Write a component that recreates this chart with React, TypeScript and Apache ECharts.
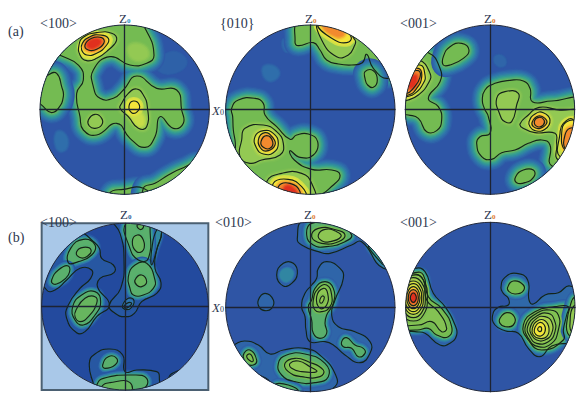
import React, { useEffect, useRef } from "react";
import * as echarts from "echarts";

// Pole-figure contours: [density level, has contour line, x,y, x,y, ...]
// coordinates are picture units measured from the top-left of each figure's crop.
type Contour = [number, number, number[]];

const a100: Contour[] = [
  [-2.2, 0, [170,400,190,400,202,430,187,452,170,440]],
  [-2.6, 0, [470,195,520,155,560,190,505,222]],
  [0, 1, [180,166,236,196,250,240,230,280,240,350,250,390,290,405,350,370,390,415,435,442,465,410,480,350,520,385,550,370,545,330,530,270,470,265,410,228,370,270,340,295,300,295,280,260,280,210,330,170,390,195,440,190,462,165,435,85,400,50,250,50,190,100,140,150]],
  [0, 1, [146,224,170,220,185,260,190,290,175,325,155,338,135,325,110,290,125,245]],
  [0, 1, [330,578,370,568,430,565,455,600,340,610]],
  [0, 1, [430,565,465,550,505,525,550,503,600,490,620,570,520,640,440,620]],
  [1, 1, [237,135,250,112,290,98,335,100,350,120,325,150,290,175,260,182,240,165]],
  [1, 1, [365,310,385,280,410,267,430,285,442,320,440,380,415,385,385,350,360,325]],
  [1, 1, [265,360,285,343,305,355,305,375,285,385,268,378]],
  [1, 0, [390,140,430,140,440,170,400,175]],
  [3, 1, [247,130,270,110,300,105,325,115,320,135,290,160,260,165,245,150]],
  [2, 0, [395,340,420,340,430,370,415,375]],
  [3, 1, [387,318,400,303,418,315,412,335,395,338]],
  [4, 1, [255,135,275,115,305,113,312,128,290,148,265,150]],
  [5, 0, [265,132,282,120,300,125,285,140,270,142]],
];

const a010: Contour[] = [
  [-2.2, 0, [175,205,205,200,220,225,190,240]],
  [-2.4, 0, [235,120,255,125,260,150,240,152]],
  [0, 1, [80,325,100,300,150,295,175,310,180,345,215,380,255,418,275,405,310,402,338,425,325,465,285,472,255,452,268,480,320,508,380,510,405,525,385,555,330,590,200,610,100,490,90,420,85,390,83,350]],
  [0, 1, [285,65,270,125,280,137,325,128,345,150,365,180,400,192,440,195,472,188,485,163,505,205,548,235,580,200,500,50]],
  [0, 1, [480,215,505,212,517,240,505,262,488,255,480,235]],
  [1, 1, [120,385,175,375,215,395,235,430,225,465,170,480,135,490,105,470,110,420]],
  [1, 1, [185,545,230,520,290,520,320,550,325,600,190,600]],
  [1, 1, [350,120,395,170,430,165,447,140,450,120,400,70,340,60]],
  [2, 1, [150,410,175,392,205,400,220,430,205,458,175,462,155,445]],
  [3, 1, [205,550,250,538,290,560,300,590,220,590]],
  [3, 1, [338,72,380,115,425,128,438,110,395,65]],
  [3, 1, [160,420,180,398,205,415,210,435,190,452,170,448]],
  [4, 1, [168,425,185,407,203,425,195,445,175,442]],
  [4, 1, [220,560,255,550,285,575,270,595,235,585]],
  [4, 0, [355,78,395,108,415,100,380,72]],
  [5, 0, [240,565,258,562,272,585,248,590]],
];

const a001: Contour[] = [
  [-2.5, 0, [300,170,325,170,330,195,305,195]],
  [-2.3, 0, [340,530,360,520,360,560,340,560]],
  [0, 1, [100,158,135,205,135,245,100,295,130,320,140,360,125,392,95,395,70,355,40,345,10,340,10,200,60,170]],
  [0, 1, [145,170,165,140,200,130,222,150,205,175,165,195,145,195]],
  [0, 1, [262,300,270,270,300,250,345,241,385,243,405,265,412,305,470,303,560,305,560,500,470,497,465,435,440,420,400,430,360,450,320,458,290,478,260,470,245,430,255,410,285,400,280,350,268,325]],
  [0, 1, [362,530,385,510,415,510,417,530,390,548,365,548]],
  [1, 1, [305,295,330,275,370,280,365,315,350,365,330,365,315,345]],
  [1, 1, [375,372,400,345,432,322,490,330,560,340,560,480,490,480,485,430,480,400,420,398,385,385]],
  [1, 1, [70,180,105,220,100,250,70,285,40,300,15,300,15,200]],
  [2, 1, [75,195,90,225,85,250,60,280,35,290,15,290,15,215]],
  [2, 1, [402,365,420,342,445,338,465,360,450,388,420,392,405,380]],
  [2, 1, [495,400,505,370,535,360,560,460,495,470]],
  [3, 1, [70,205,80,230,65,265,40,285,15,280,30,220]],
  [3, 1, [412,365,430,348,450,355,455,370,435,385,415,380]],
  [3, 1, [500,400,515,365,550,370,540,440,510,450]],
  [4, 1, [70,212,75,232,55,265,35,280,15,270,40,225]],
  [4, 1, [418,365,432,352,447,360,445,375,428,380]],
  [4, 1, [510,405,525,385,550,390,530,440,510,445]],
  [5, 0, [60,228,62,245,48,262,42,245]],
];

const b100: Contour[] = [
  [-2.7, 1, [250,100,275,120,298,145,305,175,340,195,342,218,300,235,293,262,328,315,290,350,255,395,230,398,200,355,205,315,240,265,272,235,275,210,240,205,200,240,165,270,140,270,110,200,200,80]],
  [-2.7, 1, [335,60,360,100,372,180,362,265,328,315,345,340,375,350,403,340,425,305,470,280,483,248,465,205,470,150,485,95,470,50,340,50]],
  [-2.7, 1, [268,490,285,462,330,447,368,465,375,515,410,510,470,515,478,530,468,570,300,600,280,550]],
  [-2.7, 1, [505,535,540,510,552,515,520,570]],
  [-1.5, 1, [470,90,455,150,455,195,470,150,485,95]],
  [-0.4, 1, [205,188,212,145,250,118,285,135,275,165,235,185]],
  [-0.4, 1, [155,240,175,210,205,198,205,225,175,250,160,252]],
  [-0.4, 1, [378,70,388,140,415,180,445,175,450,80,445,60]],
  [-0.4, 1, [390,265,385,230,405,195,440,190,465,240,460,265,430,285,400,285]],
  [-0.4, 1, [218,320,245,285,285,275,302,305,285,345,250,375,225,360]],
  [-0.4, 1, [308,495,325,470,350,475,345,495,315,505]],
  [-0.4, 1, [290,555,310,535,400,525,440,535,430,565,290,575]],
  [-2, 1, [367,318,385,295,402,302,392,325,375,328]],
  [-2.5, 1, [372,318,385,308,395,310,385,322,375,324]],
  [-0.2, 1, [230,155,250,142,273,150,260,170,238,172]],
  [-0.2, 1, [397,125,412,105,430,120,430,150,410,155]],
  [-0.2, 1, [412,75,430,75,425,88,415,85]],
  [-0.2, 1, [405,240,425,225,440,245,425,260,410,255]],
  [-0.2, 1, [228,330,255,295,285,290,290,310,265,350,240,365,225,350]],
  [-0.2, 1, [305,560,330,548,390,548,385,590,300,590]],
];

const b010: Contour[] = [
  [-2.5, 1, [298,60,277,115,290,135,340,155,375,160,440,135,470,125,535,205,580,180,480,40]],
  [-1, 1, [490,140,510,150,540,195,530,190]],
  [-2.5, 1, [340,205,365,185,405,205,415,235,390,300,380,345,400,380,450,395,495,425,495,460,465,488,420,465,385,435,360,425,315,425,303,390,300,350,290,320,300,280,320,255,335,235]],
  [-2.5, 1, [215,225,235,190,265,190,277,220,260,250,235,258]],
  [-2.5, 1, [160,300,180,280,205,300,200,325,180,332,163,322]],
  [-2.5, 1, [92,432,120,423,160,435,195,462,235,450,300,445,350,470,392,525,390,560,330,585,250,600,200,570,190,540,150,520,120,500,70,450]],
  [-1.6, 0, [225,225,245,205,265,220,245,245]],
  [-0.4, 1, [305,105,320,70,400,75,440,105,420,125,365,140,325,135]],
  [-0.4, 1, [320,300,330,265,360,245,385,265,385,310,365,345,360,370,365,400,345,415,325,400,320,360,310,320]],
  [-0.4, 1, [410,425,425,413,450,435,475,445,480,460,460,470,440,445,415,440]],
  [-0.4, 1, [115,465,135,450,155,480,145,495,125,490]],
  [-0.4, 1, [220,490,245,465,300,462,360,490,370,530,330,548,270,545,230,525]],
  [-0.4, 1, [210,555,250,555,280,575,240,590]],
  [0.2, 1, [320,110,340,85,395,90,420,105,400,125,350,130]],
  [0.2, 1, [325,300,340,265,365,255,380,285,375,320,350,335,330,330]],
  [0.4, 1, [125,470,135,462,145,480,140,485]],
  [0.2, 1, [240,490,270,475,310,485,355,510,345,530,290,530,250,515]],
  [0.8, 1, [340,105,360,88,395,95,408,110,375,125,350,122]],
  [0.8, 1, [335,290,355,265,368,280,365,315,345,325]],
  [0.8, 1, [255,490,280,483,315,500,335,515,290,515,260,505]],
  [1, 1, [345,298,352,288,358,292,352,308,345,308]],
];

const b001: Contour[] = [
  [-2.4, 1, [20,230,60,205,90,215,115,280,150,320,180,375,185,405,165,430,135,435,90,400,60,395,20,385]],
  [-2.4, 1, [318,262,330,232,365,220,398,240,402,300,415,312,450,285,490,278,525,258,570,300,570,430,520,430,470,438,435,470,400,445,370,400,330,392,300,375,293,345,310,322,340,315,340,295,325,280]],
  [0, 1, [15,240,60,218,85,225,100,290,140,325,170,380,160,410,125,405,100,385,65,390,15,380]],
  [0, 1, [338,262,355,243,385,255,383,275,360,282,342,275]],
  [0, 1, [315,355,335,338,358,350,355,375,330,380,315,370]],
  [0, 1, [385,375,420,335,480,320,520,320,515,345,505,390,505,420,440,450,400,420]],
  [0, 1, [515,370,525,320,540,290,560,300,560,420,535,415,518,400]],
  [0.5, 1, [15,250,60,225,85,240,95,300,130,335,155,385,140,395,110,365,70,375,15,365]],
  [0.5, 1, [392,375,425,340,465,330,490,345,490,390,470,430,430,440,400,415]],
  [1, 1, [525,370,535,320,560,320,555,400,530,395]],
  [1, 1, [13,293,25,240,55,222,85,240,97,293,85,345,55,363,25,345]],
  [1.4, 1, [19,293,30,248,55,233,80,248,91,293,80,338,55,353,30,338]],
  [2, 1, [25,293,34,256,55,243,76,256,85,293,76,330,55,343,34,330]],
  [1, 1, [398,380,425,348,460,340,478,360,480,395,460,425,425,430,405,410]],
  [1.5, 1, [405,385,425,355,450,350,470,365,470,400,450,420,425,420,410,405]],
  [2, 1, [412,385,428,362,450,362,462,385,455,410,432,415,415,405]],
  [3, 1, [30,293,38,262,55,251,72,262,80,293,72,324,55,335,38,324]],
  [3, 1, [35,293,41,270,55,260,69,270,75,293,69,316,55,326,41,316]],
  [3, 1, [418,388,432,368,448,375,450,395,438,408,422,403]],
  [4, 1, [40,293,44,276,55,269,66,276,70,293,66,310,55,317,44,310]],
  [5, 1, [46,293,50,282,55,279,60,282,64,293,60,304,55,307,50,304]],
  [2, 1, [428,388,435,380,440,388,435,395]],
];

const gridLetters = ["(a)", "(b)"];
const poleTitles = ["<100>", "{010}", "<001>", "<100>", "<010>", "<001>"];
const zLabel = "Z";
const xLabel = "X";
const subscript = "0";
const contourSets = [a100, a010, a001, b100, b010, b001];

// Figure geometry: crop offset, centre within the crop, radius (all in picture units, 3 per pixel)
const frames = [
  { ox: 0, oy: 0, cx: 374, cy: 329, r: 254, bg: "#2e55a6", halo: 1, box: false },
  { ox: 205, oy: 0, cx: 316, cy: 329, r: 254, bg: "#2e55a6", halo: 1, box: false },
  { ox: 395, oy: 0, cx: 285, cy: 329, r: 254, bg: "#2e55a6", halo: 1, box: false },
  { ox: 0, oy: 200, cx: 375, cy: 320, r: 250, bg: "#234a9e", halo: 0.55, box: true },
  { ox: 205, oy: 200, cx: 316, cy: 321, r: 254, bg: "#2f55a5", halo: 0.55, box: false },
  { ox: 395, oy: 200, cx: 286, cy: 321, r: 254, bg: "#2f55a5", halo: 0.55, box: false },
];

const ramp = ["#2e55a6", "#2f74ac", "#33a092", "#74bb52", "#93c953", "#c8dd48", "#f4e63a", "#f28a2e", "#e0301e"];

const hex = (c: string) => [1, 3, 5].map((i) => parseInt(c.slice(i, i + 2), 16));
const mix = (a: string, b: string, t: number) => {
  const A = hex(a);
  const B = hex(b);
  return `rgb(${A.map((v, i) => Math.round(v + (B[i] - v) * t)).join(",")})`;
};
const colorAt = (v: number, bg: string) => {
  const u = Math.max(0, Math.min(ramp.length - 1, v + 3));
  const i = Math.min(ramp.length - 2, Math.floor(u));
  return mix(i === 0 ? bg : ramp[i], ramp[i + 1], u - i);
};

type Item = { kind: "bg" | "fill" | "line" | "rim"; c?: Contour };

function buildOption() {
  const grid: any[] = [];
  const xAxis: any[] = [];
  const yAxis: any[] = [];
  const series: any[] = [];
  const axisLine = { show: true, onZero: true, lineStyle: { color: "#1d2333", width: 1.3 } };
  frames.forEach((f, idx) => {
    const pxR = f.r / 3;
    const pxCx = f.ox + f.cx / 3;
    const pxCy = f.oy + f.cy / 3;
    grid.push({
      left: pxCx - pxR,
      top: pxCy - pxR,
      width: pxR * 2,
      height: pxR * 2,
      show: f.box,
      backgroundColor: f.box ? "#a9c8e8" : "transparent",
      borderColor: f.box ? "#4b6072" : "transparent",
      borderWidth: f.box ? 2 : 0,
    });
    const base = { gridIndex: idx, type: "value", min: -f.r, max: f.r, z: 20, axisLine, axisTick: { show: false }, axisLabel: { show: false }, splitLine: { show: false } };
    xAxis.push({ ...base });
    yAxis.push({ ...base });
    const contours = contourSets[idx];
    const sorted = contours.slice().sort((p, q) => p[0] - q[0]);
    const items: Item[] = [
      { kind: "bg" },
      ...sorted.map((c) => ({ kind: "fill" as const, c })),
      ...contours.filter((c) => c[1]).map((c) => ({ kind: "line" as const, c })),
      { kind: "rim" },
    ];
    series.push({
      type: "custom",
      xAxisIndex: idx,
      yAxisIndex: idx,
      silent: true,
      clip: false,
      z: 5,
      data: items.map(() => [0, 0]),
      renderItem: (params: any, api: any) => {
        const it = items[params.dataIndex];
        const o = api.coord([0, 0]);
        const r = api.coord([f.r, 0])[0] - o[0];
        const clipPath = { type: "circle", shape: { cx: o[0], cy: o[1], r } };
        if (it.kind === "bg") return { type: "circle", shape: { cx: o[0], cy: o[1], r }, style: { fill: f.bg } };
        if (it.kind === "rim") return { type: "circle", shape: { cx: o[0], cy: o[1], r }, style: { fill: "none", stroke: "#232a3c", lineWidth: 1 } };
        const [level, , flat] = it.c as Contour;
        const points: number[][] = [];
        for (let i = 0; i < flat.length; i += 2) points.push(api.coord([flat[i] - f.cx, f.cy - flat[i + 1]]));
        const shape = { points, smooth: 0.5 };
        if (it.kind === "line") {
          return { type: "group", clipPath, children: [{ type: "polygon", shape, style: { fill: "none", stroke: "#14241a", lineWidth: 1.15 } }] };
        }
        const nested = level !== 0 && level > -0.35 && level < 1;
        const low = level >= 1 ? level - 1 : nested ? level - 0.4 : -3;
        const wide = (level >= 1 || nested ? 8 : (level + 3) * 7.5) * f.halo;
        const steps = level >= 1 || nested ? 3 : Math.max(4, Math.round(wide / 2.5));
        const children: any[] = [];
        for (let s = 0; s < steps; s++) {
          const t = (s + 0.5) / steps;
          children.push({
            type: "polygon",
            shape,
            style: { fill: "none", stroke: colorAt(low + (level - low) * t, f.bg), lineWidth: wide * (1 - s / steps), lineJoin: "round" },
          });
        }
        children.push({ type: "polygon", shape, style: { fill: colorAt(level, f.bg) } });
        return { type: "group", clipPath, children };
      },
    });
  });

  const textStyle = { fontFamily: "Liberation Serif", fill: "#2d3850" };
  const graphic: any[] = [];
  gridLetters.forEach((t, i) => {
    graphic.push({ type: "text", x: 8, y: i === 0 ? 31 : 237, z: 1, style: { ...textStyle, text: t, fontSize: 14, verticalAlign: "middle" } });
  });
  const titleX = [40, 220, 400, 40, 215, 400];
  const titleY = [23, 23, 23, 222, 222, 222];
  poleTitles.forEach((t, i) => {
    graphic.push({ type: "text", x: titleX[i], y: titleY[i], z: 1, style: { ...textStyle, text: t, fontSize: 14, verticalAlign: "middle" } });
  });
  const zX = [119, 305, 484, 120, 304, 484];
  const zY = [18, 18, 18, 214, 214, 214];
  const subColor = ["#2a8fc0", "#e07b2a", "#e07b2a", "#2a5fa0", "#e07b2a", "#e07b2a"];
  zX.forEach((x, i) => {
    graphic.push({
      type: "text",
      x,
      y: zY[i],
      z: 1,
      style: {
        text: `{z|${zLabel}}{s|${subscript}}`,
        verticalAlign: "middle",
        rich: {
          z: { fontFamily: "Liberation Serif", fontSize: 13, fill: "#2d3850" },
          s: { fontFamily: "Liberation Serif", fontSize: 7, fill: subColor[i], fontWeight: "bold", padding: [5, 0, 0, 0] },
        },
      },
    });
  });
  [110, 307].forEach((y) => {
    graphic.push({
      type: "text",
      x: 212,
      y,
      z: 30,
      style: {
        text: `{x|${xLabel}}{s|${subscript}}`,
        verticalAlign: "middle",
        rich: {
          x: { fontFamily: "Liberation Serif", fontStyle: "italic", fontSize: 13, fill: "#2d3850" },
          s: { fontFamily: "Liberation Serif", fontSize: 8, fill: "#2d3850", padding: [5, 0, 0, 0] },
        },
      },
    });
  });

  return { animation: false, backgroundColor: "#ffffff", grid, xAxis, yAxis, series, graphic };
}

export default function App() {
  const ref = useRef<HTMLDivElement>(null);
  useEffect(() => {
    const chart = echarts.init(ref.current as HTMLDivElement, undefined, { renderer: "svg" });
    chart.setOption(buildOption() as any);
    return () => chart.dispose();
  }, []);
  return <div ref={ref} style={{ position: "fixed", left: 0, top: 0, width: 582, height: 402 }} />;
}
